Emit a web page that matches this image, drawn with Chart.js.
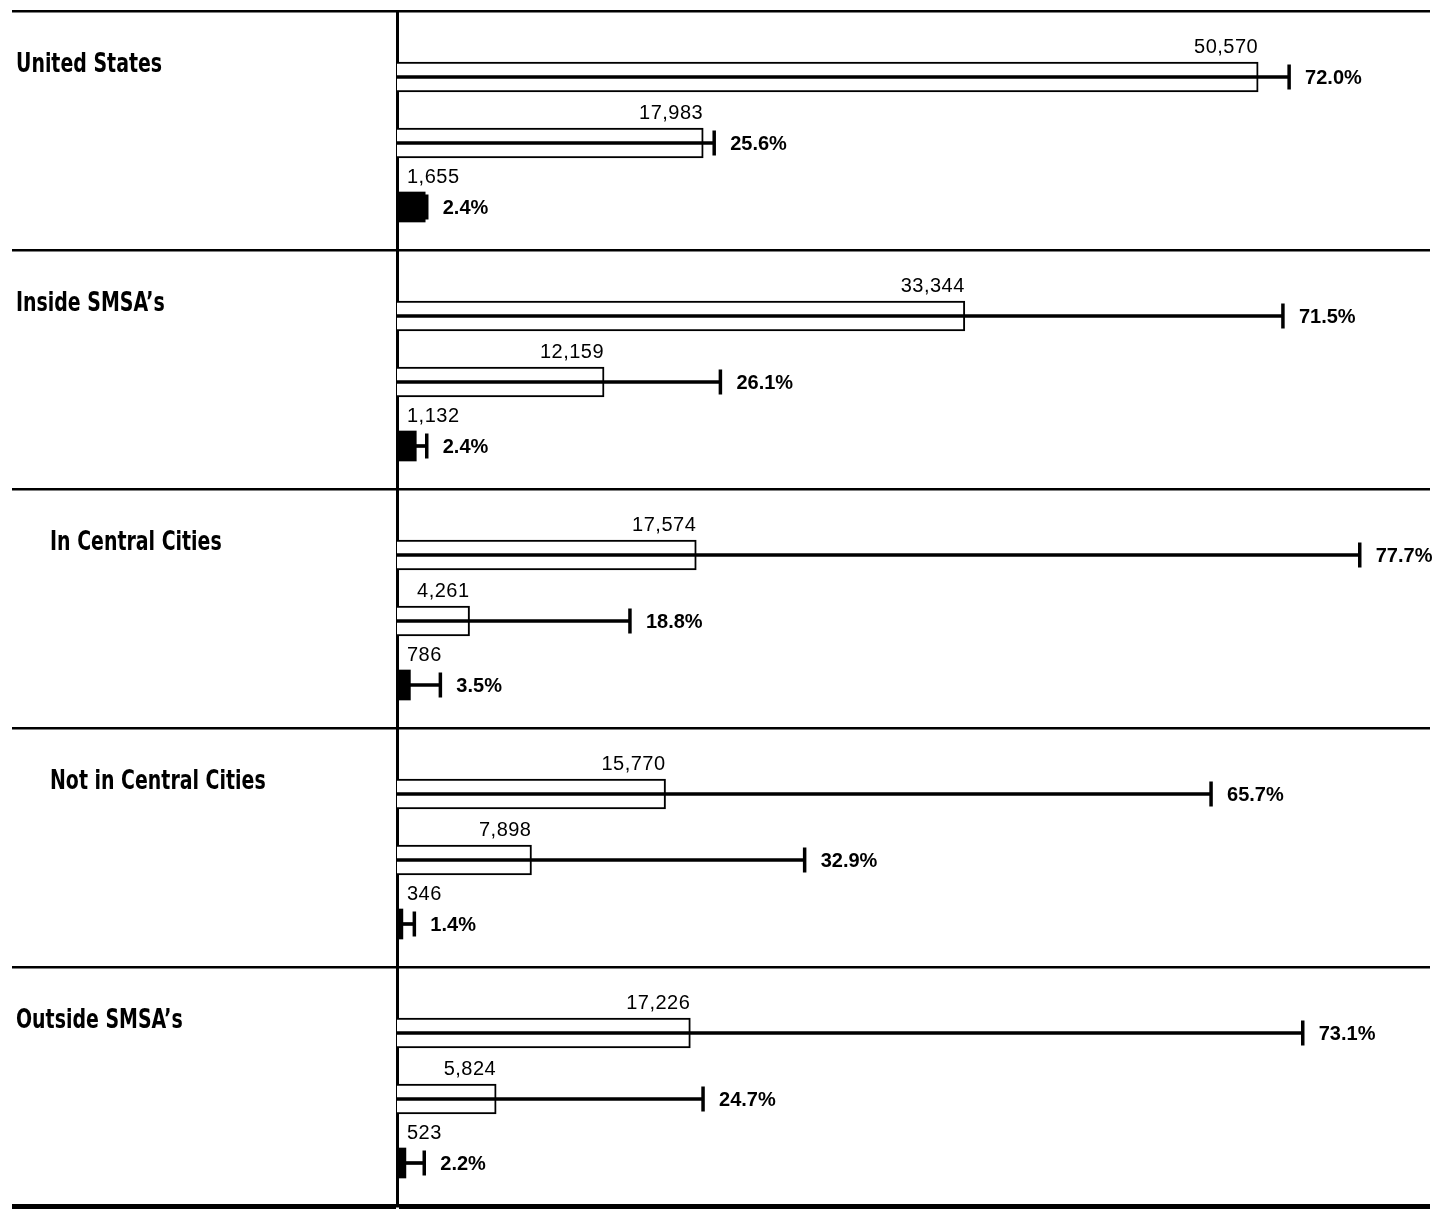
<!DOCTYPE html>
<html>
<head>
<meta charset="utf-8">
<title>Counts and shares by area</title>
<script src="https://cdn.jsdelivr.net/npm/chart.js@4.4.1/dist/chart.umd.min.js"></script>
<style>
  html, body { margin: 0; padding: 0; background: #fff; }
  #wrap { width: 1439px; height: 1215px; position: relative; }
</style>
</head>
<body>
<div id="wrap"><canvas id="chart"></canvas></div>
<script>
// Data
const categories = ['United States', 'Inside SMSA’s', 'In Central Cities', 'Not in Central Cities', 'Outside SMSA’s'];
const firstCounts = [50570, 33344, 17574, 15770, 17226];
const secondCounts = [17983, 12159, 4261, 7898, 5824];
const thirdCounts = [1655, 1132, 786, 346, 523];
const firstPct = [72.0, 71.5, 77.7, 65.7, 73.1];
const secondPct = [25.6, 26.1, 18.8, 32.9, 24.7];
const thirdPct = [2.4, 2.4, 3.5, 1.4, 2.2];

// Layout: the y scale runs in pixels, one block per area
const GROUP = 239;
const ROW_OFFSET = [66, 132, 196];
const LABEL_OFFSET = 54;
const INDENT = [0, 0, 1, 1, 0];
const rowPos = (g, r) => g * GROUP + ROW_OFFSET[r];

const rows = [
  { counts: firstCounts, pct: firstPct, fill: '#fff', border: 2 },
  { counts: secondCounts, pct: secondPct, fill: '#fff', border: 2 },
  { counts: thirdCounts, pct: thirdPct, fill: '#000', border: 0 }
];

const datasets = [];
rows.forEach((row, r) => {
  datasets.push({
    type: 'bar',
    role: 'count',
    data: row.counts.map((v, g) => ({ x: v, y: rowPos(g, r) })),
    xAxisID: 'x',
    backgroundColor: row.fill,
    borderColor: '#000',
    borderWidth: row.border,
    barThickness: 30,
    grouped: false,
    order: 2
  });
  // share line from the axis
  datasets.push({
    type: 'bar',
    role: 'line',
    data: row.pct.map((v, g) => ({ x: v, y: rowPos(g, r) })),
    xAxisID: 'x2',
    backgroundColor: '#000',
    borderWidth: 0,
    barThickness: 3,
    grouped: false,
    order: 1
  });
  // end cap of the share line
  datasets.push({
    type: 'scatter',
    role: 'cap',
    data: row.pct.map((v, g) => ({ x: v, y: rowPos(g, r) })),
    xAxisID: 'x2',
    pointStyle: 'line',
    rotation: 90,
    radius: 12.5,
    borderColor: '#000',
    borderWidth: 3.5,
    order: 0
  });
});

const labelPlugin = {
  id: 'valueLabels',
  afterDatasetsDraw(chart) {
    const ctx = chart.ctx;
    const yScale = chart.scales.y;
    ctx.save();
    ctx.fillStyle = '#000';

    // area names, condensed bold
    ctx.font = "bold 26px 'DejaVu Sans Condensed', 'DejaVu Sans', sans-serif";
    ctx.textAlign = 'left';
    ctx.textBaseline = 'middle';
    categories.forEach((name, g) => {
      ctx.save();
      ctx.translate(INDENT[g] ? 50 : 16, yScale.getPixelForValue(g * GROUP + LABEL_OFFSET));
      ctx.scale(0.81, 1);
      ctx.fillText(name, 0, 0);
      ctx.restore();
    });

    chart.data.datasets.forEach((ds, i) => {
      const meta = chart.getDatasetMeta(i);
      if (ds.role === 'count') {
        ctx.font = "20px 'Liberation Sans', Arial, sans-serif";
        ctx.letterSpacing = '0.5px';
        ctx.textBaseline = 'alphabetic';
        meta.data.forEach((el, j) => {
          const p = el.getProps(['x', 'y', 'base', 'height'], true);
          const txt = ds.data[j].x.toLocaleString('en-US');
          const w = ctx.measureText(txt).width;
          const top = p.y - p.height / 2 - 9;
          if (w + 2 <= p.x - p.base) {
            ctx.textAlign = 'right';
            ctx.fillText(txt, p.x, top);
          } else {
            ctx.textAlign = 'left';
            ctx.fillText(txt, p.base + 10, top);
          }
        });
        ctx.letterSpacing = '0px';
      } else if (ds.role === 'cap') {
        ctx.font = "bold 20px 'Liberation Sans', Arial, sans-serif";
        ctx.textAlign = 'left';
        ctx.textBaseline = 'middle';
        meta.data.forEach((el, j) => {
          const p = el.getProps(['x', 'y'], true);
          ctx.fillText(ds.data[j].x.toFixed(1) + '%', p.x + 16, p.y + 1);
        });
      }
    });
    ctx.restore();
  }
};

new Chart(document.getElementById('chart'), {
  type: 'bar',
  data: { datasets },
  plugins: [labelPlugin],
  options: {
    indexAxis: 'y',
    responsive: true,
    maintainAspectRatio: false,
    animation: false,
    devicePixelRatio: 1,
    layout: { autoPadding: false, padding: { left: 12, right: 9, top: 11, bottom: 9 } },
    plugins: { legend: { display: false }, tooltip: { enabled: false } },
    scales: {
      x: { type: 'linear', display: false, min: 0, max: 60660, offset: false },
      x2: { type: 'linear', axis: 'x', display: false, min: 0, max: 83.37, offset: false },
      y: {
        type: 'linear',
        position: 'left',
        reverse: true,
        offset: false,
        min: 0,
        max: GROUP * categories.length,
        afterBuildTicks: (s) => {
          s.ticks = categories.concat(['']).map((_, i) => ({ value: i * GROUP }));
        },
        ticks: { display: false },
        grid: {
          offset: false,
          color: '#000',
          lineWidth: (c) => (c.index === categories.length ? 5 : 2.5),
          drawTicks: true,
          tickLength: 385
        },
        border: { display: true, color: '#000', width: 3 }
      }
    }
  }
});
</script>
</body>
</html>
